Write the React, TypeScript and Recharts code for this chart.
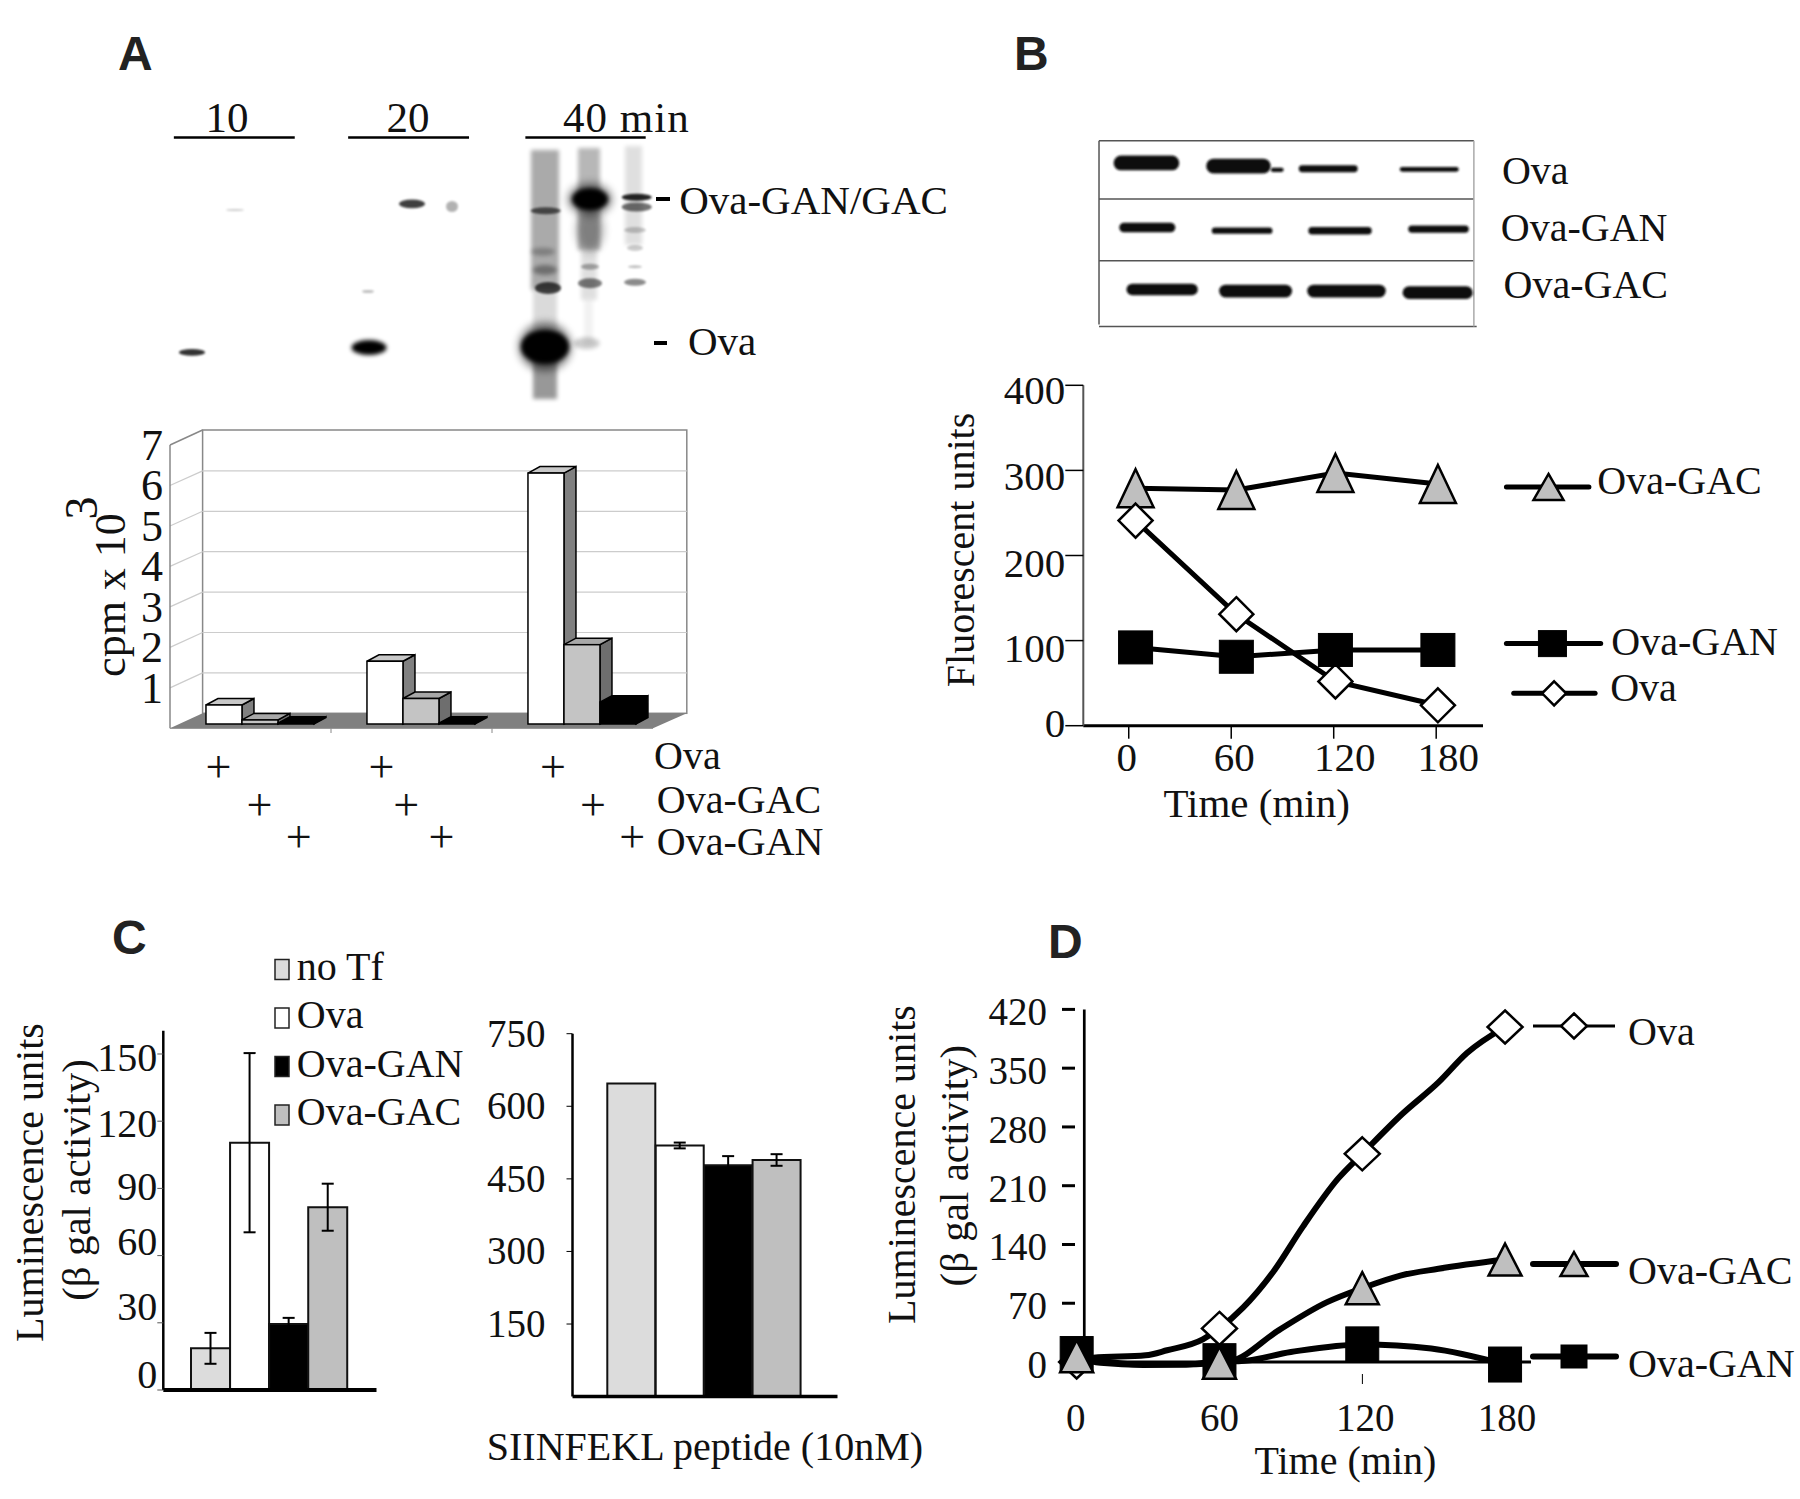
import React from 'react';
import {
  BarChart,
  Bar,
  Cell,
  ErrorBar,
  LineChart,
  Line,
  XAxis,
  YAxis,
  ReferenceLine,
} from 'recharts';

const serif = '"Liberation Serif", serif';
const PAGE_W = 1800;
const PAGE_H = 1499;

// panel A: cpm x 10^3 per chase time
const timesA = ['10', '20', '40'];
const ovaA = [0.47, 1.55, 6.2];
const gacA = [0.1, 0.63, 1.96];
const ganA = [0.02, 0.02, 0.54];
const ticksA = [1, 2, 3, 4, 5, 6, 7];

// panel B: fluorescent units
const timesB = [4, 63, 121, 181];
const ticksXB = [0, 60, 120, 180];
const ticksYB = [0, 100, 200, 300, 400];
const gacB = [279, 277, 297, 284];
const ovaB = [241, 131, 52, 24];
const ganB = [92, 81, 89, 89];
const labelShiftB = [-2, 3, 11, 12];
const labelShiftYB = [-2, 8, 8, 7, 6];

// panel C: luminescence, without and with peptide
const groupsC = ['no Tf', 'Ova', 'Ova-GAN', 'Ova-GAC'];
const coloursC = ['#dcdcdc', '#ffffff', '#000000', '#bfbfbf'];
const valuesC1 = [18.6, 110.4, 29.5, 81.6];
const errorsC1 = [6.9, 40, 2.7, 10.5];
const ticksC1 = [0, 30, 60, 90, 120, 150];
const labelShiftC1 = [-15, -16, -14, -1, 3, 4];
const valuesC2 = [647, 519, 478, 489];
const errorsC2 = [0, 6, 19, 12];
const ticksC2 = [150, 300, 450, 600, 750];

const markerTimesD = [0, 60, 120, 180];
const ticksXD = [0, 60, 120, 180];
const ticksYD = [0, 70, 140, 210, 280, 350, 420];
const labelShiftD = [-1, 0, 3, 2];
const ovaTimesD = [0, 7, 29, 38, 53, 60, 70, 83, 95, 110, 120, 137, 152, 164, 180];
const ovaValuesD = [0, 5, 8, 14, 27, 40, 65, 109, 161, 219, 248, 296, 333, 368, 399];
const ganTimesD = [0, 10, 28, 46, 60, 68, 90, 120, 149, 180];
const ganValuesD = [9.5, 2, -3, -3, 1, 1, 12, 21, 16, -3];
const gacTimesD = [0, 10, 28, 46, 60, 65, 85, 105, 120, 136, 152, 180];
const gacValuesD = [7, -1, -3.5, -3, -1, 1, 38, 71, 88, 103, 111, 122];

const tableA = timesA.map((t, i) => ({ t, ova: ovaA[i], gac: gacA[i], gan: ganA[i] }));
const tableB = timesB.map((time, i) => ({ time, gac: gacB[i], ova: ovaB[i], gan: ganB[i] }));
const tableC1 = groupsC.map((name, i) => ({ name, value: valuesC1[i], err: errorsC1[i] }));
const tableC2 = groupsC.map((name, i) => ({ name, value: valuesC2[i], err: errorsC2[i] }));
const pairs = (times: number[], values: number[]) => times.map((time, i) => ({ time, value: values[i] }));

// gel picture of panel A: lane smears x1, x2, y1, y2, darkness
const gelSmears: number[][] = [
  [531, 559, 150, 290, 0.33],
  [533, 557, 290, 330, 0.14],
  [533, 557, 350, 399, 0.4],
  [578, 600, 148, 250, 0.28],
  [581, 597, 250, 300, 0.12],
  [584, 593, 300, 345, 0.05],
  [625, 642, 146, 245, 0.12],
];
// bands: x, y, rx, ry, darkness, blur
const gelBlobs: number[][] = [
  [192, 352.4, 13, 3.3, 0.8, 1],
  [369, 347.5, 17.5, 7.5, 1, 2],
  [368, 291.5, 6, 1.6, 0.25, 1],
  [235, 210, 9, 1, 0.2, 1],
  [412, 203.8, 13, 4.4, 0.75, 1],
  [452, 206.5, 6, 5.5, 0.3, 1],
  [545, 346.7, 26, 24, 0.55, 4],
  [545, 346.7, 24, 17, 1, 2],
  [545.7, 210.7, 15, 3.5, 0.6, 1],
  [548, 288, 13, 6, 0.7, 1],
  [545, 270, 12, 5, 0.35, 2],
  [543, 251.7, 12, 4, 0.25, 2],
  [590, 199.3, 22, 16, 0.5, 4],
  [590, 199.3, 18, 11, 1, 2],
  [590, 230, 14, 22, 0.3, 4],
  [590, 283.3, 12, 5, 0.5, 1],
  [590, 266.7, 9, 3, 0.3, 1],
  [586.7, 343.3, 13, 6, 0.2, 2],
  [636.7, 197.3, 15, 3.5, 0.85, 1],
  [636.7, 207, 15, 4.5, 0.55, 1],
  [635, 282.3, 11, 3.5, 0.45, 1],
  [635, 266.7, 7, 1.5, 0.25, 1],
  [635, 248, 8, 3, 0.2, 1],
  [635, 230, 11, 3, 0.2, 1],
];

// western blot of panel B, in crop coordinates: x1, x2, y, height
const blotBands: number[][] = [
  [345, 462, 270, 28],
  [510, 625, 276, 28],
  [625, 648, 283, 8],
  [675, 780, 281, 13],
  [855, 960, 282, 9],
  [355, 455, 392, 18],
  [520, 628, 398, 12],
  [692, 805, 398, 14],
  [870, 978, 395, 14],
  [368, 495, 509, 22],
  [533, 663, 512, 24],
  [690, 830, 512, 24],
  [860, 985, 515, 24],
];

const ax = (z: number) => 60 + z / 1.704;
const ay = (z: number) => 20 + z / 1.823;
const bx = (z: number) => 920 + z / 1.782;
const by = (z: number) => 20 + z / 1.889;

const plus = [
  [270, 1368], [548, 1368], [840, 1368],
  [340, 1437], [590, 1437], [908, 1437],
  [407, 1495], [650, 1495], [975, 1495],
];

// every chart covers the whole page, so the margins are page positions
const AXIS_W = 60;
const AXIS_H = 60;
const page = (left: number, top: number, right: number, bottom: number) => ({
  left: left - AXIS_W,
  top,
  right: PAGE_W - right,
  bottom: PAGE_H - bottom - AXIS_H,
});
const layer: React.CSSProperties = { position: 'absolute', left: 0, top: 0 };

const T = ({ x, y, size = 40, rot, anchor, weight, spacing, fill = '#111', family = serif, children }: any) => (
  <text
    x={x}
    y={y}
    fontSize={size}
    fontFamily={family}
    fontWeight={weight}
    fill={fill}
    textAnchor={anchor}
    letterSpacing={spacing}
    transform={rot ? `rotate(-90 ${x} ${y})` : undefined}
  >
    {children}
  </text>
);

const Glyph = ({ kind, cx, cy, w, h, sw = 2.5 }: any) => {
  if (kind === 'square') return <rect x={cx - w / 2} y={cy - h / 2} width={w} height={h} fill="#000" stroke="#000" />;
  if (kind === 'triangle') {
    return (
      <polygon
        points={`${cx},${cy - h / 2} ${cx + w / 2},${cy + h / 2} ${cx - w / 2},${cy + h / 2}`}
        fill="#bfbfbf"
        stroke="#000"
        strokeWidth={sw}
      />
    );
  }
  return (
    <polygon
      points={`${cx},${cy - h / 2} ${cx + w / 2},${cy} ${cx},${cy + h / 2} ${cx - w / 2},${cy}`}
      fill="#fff"
      stroke="#000"
      strokeWidth={sw}
    />
  );
};

const dotsOf = (kind: string, w: number, h: number, only?: number[]) => (p: any) => {
  if (only && !only.includes(p.payload.time)) return <g key={p.index} />;
  return <Glyph key={p.index} kind={kind} cx={p.cx} cy={p.cy} w={w} h={h} />;
};

// tick labels are slightly off their ticks in the figure
const yTick = (size: number, down: number, shifts?: number[]) => (p: any) => (
  <text
    key={p.index}
    x={p.x}
    y={p.y + down + (shifts ? shifts[p.index] : 0)}
    textAnchor="end"
    fontSize={size}
    fontFamily={serif}
    fill="#111"
  >
    {p.payload.value}
  </text>
);
const xTick = (size: number, down: number, shifts?: number[]) => (p: any) => (
  <text
    key={p.index}
    x={p.x + (shifts ? shifts[p.index] : 0)}
    y={p.y + down}
    textAnchor="middle"
    fontSize={size}
    fontFamily={serif}
    fill="#111"
  >
    {p.payload.value}
  </text>
);

const Box3D = (faces: { front: string; top: string; side: string }) => (p: any) => {
  const dx = 12;
  const dy = 6.5;
  const x = p.x + 9.4;
  const y = p.y - 4.3;
  const w = p.width;
  const h = Math.max(p.height, 0);
  return (
    <g stroke="#000" strokeWidth={1.5}>
      <polygon points={`${x + w},${y} ${x + w + dx},${y - dy} ${x + w + dx},${y + h - dy} ${x + w},${y + h}`} fill={faces.side} />
      <polygon points={`${x},${y} ${x + dx},${y - dy} ${x + w + dx},${y - dy} ${x + w},${y}`} fill={faces.top} />
      <rect x={x} y={y} width={w} height={h} fill={faces.front} />
    </g>
  );
};

const Backdrop = () => (
  <svg width={PAGE_W} height={PAGE_H} style={layer}>
    <defs>
      {[1, 2, 3, 4].map((b) => (
        <filter key={b} id={`blur${b}`} x="-60%" y="-60%" width="220%" height="220%">
          <feGaussianBlur stdDeviation={b} />
        </filter>
      ))}
    </defs>

    {/* panel letters */}
    <T x={118} y={70} size={48} weight={700} family='"Liberation Sans", sans-serif' fill="#222">A</T>
    <T x={1014} y={70} size={48} weight={700} family='"Liberation Sans", sans-serif' fill="#222">B</T>
    <T x={112} y={954} size={48} weight={700} family='"Liberation Sans", sans-serif' fill="#222">C</T>
    <T x={1048} y={958} size={48} weight={700} family='"Liberation Sans", sans-serif' fill="#222">D</T>

    {/* panel A gel */}
    {gelSmears.map(([a, b, y1, y2, o], i) => (
      <rect key={i} x={a} y={y1} width={b - a} height={y2 - y1} fill="#000" opacity={o} filter="url(#blur2)" />
    ))}
    {gelBlobs.map(([x, y, rx, ry, o, b], i) => (
      <ellipse key={i} cx={x} cy={y} rx={rx} ry={ry} fill="#000" opacity={o} filter={`url(#blur${b})`} />
    ))}
    {[[194, 400], [491, 697], [793, 998]].map(([a, b]) => (
      <line key={a} x1={ax(a)} x2={ax(b)} y1={137.4} y2={137.4} stroke="#000" strokeWidth={2.5} />
    ))}
    <T x={227} y={132} size={43} anchor="middle">10</T>
    <T x={408} y={132} size={43} anchor="middle">20</T>
    <T x={563} y={132} size={43} spacing={1}>40 min</T>
    <rect x={656} y={197} width={14} height={4} fill="#000" />
    <T x={ax(1055)} y={ay(353)} size={41}>Ova-GAN/GAC</T>
    <rect x={654} y={341} width={13} height={4} fill="#000" />
    <T x={ax(1070)} y={ay(610)} size={41}>Ova</T>

    {/* panel A 3D walls */}
    <rect x={202.6} y={430} width={484.2} height={283.3} fill="#fff" stroke="#888" strokeWidth={1.5} />
    {ticksA.slice(0, 6).map((v) => {
      const back = 713.3 - v * 40.4;
      const front = 728.3 - v * 40.47;
      return (
        <g key={v} stroke="#ccc" strokeWidth={1.2}>
          <line x1={202.6} x2={686.8} y1={back} y2={back} />
          <line x1={170} x2={202.6} y1={front} y2={back} />
        </g>
      );
    })}
    <line x1={170} y1={445} x2={202.6} y2={430} stroke="#888" strokeWidth={1.5} />
    <line x1={170} y1={445} x2={170} y2={728.3} stroke="#888" strokeWidth={1.5} />
    <polygon points="170,728.3 202.6,713.3 686.8,713.3 653,728.3" fill="#808080" />
    {[331, 492].map((x) => (
      <line key={x} x1={x} x2={x} y1={728.3} y2={733} stroke="#888" />
    ))}
    <T x={125} y={595} size={44} rot anchor="middle">cpm x 10</T>
    <T x={97} y={508} size={46} rot anchor="middle">3</T>
    {plus.map(([x, y]) => (
      <T key={`${x}-${y}`} x={ax(x)} y={ay(y) + 11.5} size={46} anchor="middle">+</T>
    ))}
    <T x={654} y={768.8}>Ova</T>
    <T x={656.8} y={812.6}>Ova-GAC</T>
    <T x={656.8} y={855}>Ova-GAN</T>

    {/* panel B blot */}
    <g stroke="#555" strokeWidth={1.5} fill="none">
      <line x1={bx(319)} x2={bx(987)} y1={by(228)} y2={by(228)} />
      <line x1={bx(319)} x2={bx(987)} y1={by(338)} y2={by(338)} />
      <line x1={bx(319)} x2={bx(987)} y1={by(455)} y2={by(455)} />
      <line x1={bx(319)} x2={bx(992)} y1={by(579)} y2={by(579)} />
      <line x1={bx(319)} x2={bx(319)} y1={by(228)} y2={by(575)} />
      <line x1={bx(987)} x2={bx(987)} y1={by(228)} y2={by(579)} stroke="#aaa" />
    </g>
    {blotBands.map(([a, b, y, h], i) => (
      <rect
        key={i}
        x={bx(a)}
        y={by(y) - h / 2 / 1.889}
        width={(b - a) / 1.782}
        height={h / 1.889}
        rx={h / 2 / 1.889}
        fill="#111"
        filter="url(#blur1)"
      />
    ))}
    <T x={bx(1037)} y={by(310)}>Ova</T>
    <T x={bx(1035)} y={by(418)}>Ova-GAN</T>
    <T x={bx(1040)} y={by(525)}>Ova-GAC</T>

    {/* panel B titles and key */}
    <T x={974} y={550} rot anchor="middle">Fluorescent units</T>
    <T x={1256.7} y={816.7} size={41} anchor="middle">Time (min)</T>
    <line x1={bx(1045)} x2={bx(1192)} y1={by(882)} y2={by(882)} stroke="#000" strokeWidth={5} strokeLinecap="round" />
    <Glyph kind="triangle" cx={bx(1120)} cy={by(882)} w={30} h={26} />
    <T x={bx(1207)} y={by(895)}>Ova-GAC</T>
    <line x1={bx(1045)} x2={bx(1213)} y1={by(1178)} y2={by(1178)} stroke="#000" strokeWidth={5} strokeLinecap="round" />
    <Glyph kind="square" cx={bx(1127)} cy={by(1178)} w={28} h={26} />
    <T x={bx(1232)} y={by(1200)}>Ova-GAN</T>
    <line x1={bx(1058)} x2={bx(1203)} y1={by(1272)} y2={by(1272)} stroke="#000" strokeWidth={5} strokeLinecap="round" />
    <Glyph kind="diamond" cx={bx(1130)} cy={by(1272)} w={24} h={24} />
    <T x={bx(1230)} y={by(1287)}>Ova</T>

    {/* panel C titles and key */}
    <T x={42.7} y={1182.5} rot anchor="middle">Luminescence units</T>
    <T x={89.5} y={1180} size={41} rot anchor="middle">(β gal activity)</T>
    {groupsC.map((g, i) => {
      const base = [979.5, 1028, 1076.5, 1125][i];
      return (
        <g key={g}>
          <rect x={275} y={base - 20} width={14} height={20} fill={coloursC[i]} stroke="#222" strokeWidth={1.5} />
          <T x={296.8} y={base}>{g}</T>
        </g>
      );
    })}
    <T x={486.8} y={1459.6}>SIINFEKL peptide (10nM)</T>

    {/* panel D titles and key */}
    <T x={915} y={1164.5} rot anchor="middle">Luminescence units</T>
    <T x={968} y={1165.6} size={41} rot anchor="middle">(β gal activity)</T>
    <T x={1345.4} y={1474} anchor="middle">Time (min)</T>
    <line x1={1362.4} x2={1362.4} y1={1374} y2={1384} stroke="#000" />
    <line x1={1533} x2={1615} y1={1026} y2={1026} stroke="#000" strokeWidth={3} />
    <Glyph kind="diamond" cx={1574} cy={1026} w={26} h={25} />
    <T x={1628} y={1045}>Ova</T>
    <line x1={1533} x2={1616} y1={1264} y2={1264} stroke="#000" strokeWidth={6} strokeLinecap="round" />
    <Glyph kind="triangle" cx={1574} cy={1264} w={27} h={24} />
    <T x={1628} y={1284}>Ova-GAC</T>
    <line x1={1533} x2={1616} y1={1356.5} y2={1356.5} stroke="#000" strokeWidth={6} strokeLinecap="round" />
    <Glyph kind="square" cx={1574} cy={1356.5} w={26} h={23} />
    <T x={1628} y={1377}>Ova-GAN</T>
  </svg>
);

const PanelA = () => (
  <BarChart
    width={PAGE_W}
    height={PAGE_H}
    style={layer}
    data={tableA}
    margin={page(170, 445, 653, 728.3)}
    barCategoryGap="16.5%"
    barGap={0}
  >
    <XAxis dataKey="t" height={AXIS_H} tick={false} tickLine={false} axisLine={{ stroke: '#888' }} />
    <YAxis
      width={AXIS_W}
      domain={[0, 7]}
      ticks={ticksA}
      axisLine={false}
      tickLine={false}
      tickSize={4}
      tickMargin={3}
      tick={yTick(44, 15)}
      interval={0}
    />
    <Bar dataKey="ova" isAnimationActive={false} shape={Box3D({ front: '#fff', top: '#c8c8c8', side: '#808080' })} />
    <Bar dataKey="gac" isAnimationActive={false} shape={Box3D({ front: '#c4c4c4', top: '#a8a8a8', side: '#6e6e6e' })} />
    <Bar dataKey="gan" isAnimationActive={false} shape={Box3D({ front: '#000', top: '#000', side: '#000' })} />
  </BarChart>
);

const PanelB = () => (
  <LineChart width={PAGE_W} height={PAGE_H} style={layer} data={tableB} margin={page(1083.3, 385.3, 1483, 725.7)}>
    <XAxis
      dataKey="time"
      type="number"
      domain={[-26.6, 207.4]}
      ticks={ticksXB}
      height={AXIS_H}
      axisLine={{ stroke: '#000', strokeWidth: 3 }}
      tickLine={{ stroke: '#000', strokeWidth: 1.5 }}
      tickSize={13}
      tick={xTick(41, 30, labelShiftB)}
      interval={0}
    />
    <YAxis
      width={AXIS_W}
      domain={[0, 400]}
      ticks={ticksYB}
      axisLine={{ stroke: '#555', strokeWidth: 2 }}
      tickLine={{ stroke: '#000', strokeWidth: 1.5 }}
      tickSize={18}
      tickMargin={0}
      tick={yTick(41, 13, labelShiftYB)}
      interval={0}
    />
    <Line dataKey="gac" stroke="#000" strokeWidth={5} isAnimationActive={false} dot={dotsOf('triangle', 36, 38)} />
    <Line dataKey="ova" stroke="#000" strokeWidth={5} isAnimationActive={false} dot={dotsOf('diamond', 34, 34)} />
    <Line dataKey="gan" stroke="#000" strokeWidth={5} isAnimationActive={false} dot={dotsOf('square', 34, 33)} />
  </LineChart>
);

const PanelC1 = () => (
  <BarChart
    width={PAGE_W}
    height={PAGE_H}
    style={layer}
    data={tableC1}
    margin={page(163.3, 1030.7, 376.5, 1390)}
    barCategoryGap={0}
  >
    <XAxis
      dataKey="name"
      height={AXIS_H}
      padding={{ left: 27.7, right: 29.2 }}
      tick={false}
      tickLine={false}
      axisLine={{ stroke: '#000', strokeWidth: 4 }}
    />
    <YAxis
      width={AXIS_W}
      domain={[0, 160.4]}
      ticks={ticksC1}
      axisLine={{ stroke: '#000', strokeWidth: 2.5 }}
      tickLine={{ stroke: '#555' }}
      tickSize={6}
      tickMargin={0}
      tick={yTick(40, 13, labelShiftC1)}
      interval={0}
    />
    <Bar dataKey="value" isAnimationActive={false} stroke="#111" strokeWidth={2}>
      {tableC1.map((d, i) => (
        <Cell key={d.name} fill={coloursC[i]} />
      ))}
      <ErrorBar dataKey="err" width={6} stroke="#000" strokeWidth={2} isAnimationActive={false} />
    </Bar>
  </BarChart>
);

const PanelC2 = () => (
  <BarChart
    width={PAGE_W}
    height={PAGE_H}
    style={layer}
    data={tableC2}
    margin={page(572.5, 1033.7, 837.5, 1396.6)}
    barCategoryGap={0}
  >
    <XAxis
      dataKey="name"
      height={AXIS_H}
      padding={{ left: 34.8, right: 36.5 }}
      tick={false}
      tickLine={false}
      axisLine={{ stroke: '#000', strokeWidth: 3.5 }}
    />
    <YAxis
      width={AXIS_W}
      domain={[0, 750]}
      ticks={ticksC2}
      axisLine={{ stroke: '#000', strokeWidth: 2.5 }}
      tickLine={{ stroke: '#000' }}
      tickSize={6}
      tickMargin={21}
      tick={yTick(39, 13)}
      interval={0}
    />
    <Bar dataKey="value" isAnimationActive={false} stroke="#111" strokeWidth={2}>
      {tableC2.map((d, i) => (
        <Cell key={d.name} fill={coloursC[i]} />
      ))}
      <ErrorBar dataKey="err" width={6} stroke="#000" strokeWidth={2} isAnimationActive={false} />
    </Bar>
  </BarChart>
);

const PanelD = () => (
  <LineChart width={PAGE_W} height={PAGE_H} style={layer} margin={page(1075, 1009.4, 1531, 1387.2)}>
    <XAxis
      dataKey="time"
      type="number"
      domain={[-0.7, 190.9]}
      ticks={ticksXD}
      height={AXIS_H}
      axisLine={false}
      tickLine={false}
      tick={xTick(39, 36, labelShiftD)}
      interval={0}
    />
    <YAxis
      width={AXIS_W}
      domain={[-30, 420]}
      ticks={ticksYD}
      axisLine={false}
      tickLine={{ stroke: '#000', strokeWidth: 3 }}
      tickSize={13}
      tickMargin={15}
      tick={yTick(39, 16)}
      interval={0}
    />
    <ReferenceLine y={0} stroke="#000" strokeWidth={3} />
    <ReferenceLine
      segment={[
        { x: 3.2, y: 0 },
        { x: 3.2, y: 420 },
      ]}
      stroke="#000"
      strokeWidth={2.7}
    />
    <Line
      data={pairs(ovaTimesD, ovaValuesD)}
      dataKey="value"
      type="monotone"
      stroke="#000"
      strokeWidth={6}
      isAnimationActive={false}
      dot={dotsOf('diamond', 35, 33, markerTimesD)}
    />
    <Line
      data={pairs(ganTimesD, ganValuesD)}
      dataKey="value"
      type="monotone"
      stroke="#000"
      strokeWidth={6}
      isAnimationActive={false}
      dot={dotsOf('square', 33, 35, markerTimesD)}
    />
    <Line
      data={pairs(gacTimesD, gacValuesD)}
      dataKey="value"
      type="monotone"
      stroke="#000"
      strokeWidth={6}
      isAnimationActive={false}
      dot={dotsOf('triangle', 33, 32, markerTimesD)}
    />
  </LineChart>
);

export default function App() {
  return (
    <div style={{ position: 'absolute', left: 0, top: 0, width: PAGE_W, height: PAGE_H, background: '#fff', overflow: 'hidden' }}>
      <Backdrop />
      <PanelA />
      <PanelB />
      <PanelC1 />
      <PanelC2 />
      <PanelD />
    </div>
  );
}
